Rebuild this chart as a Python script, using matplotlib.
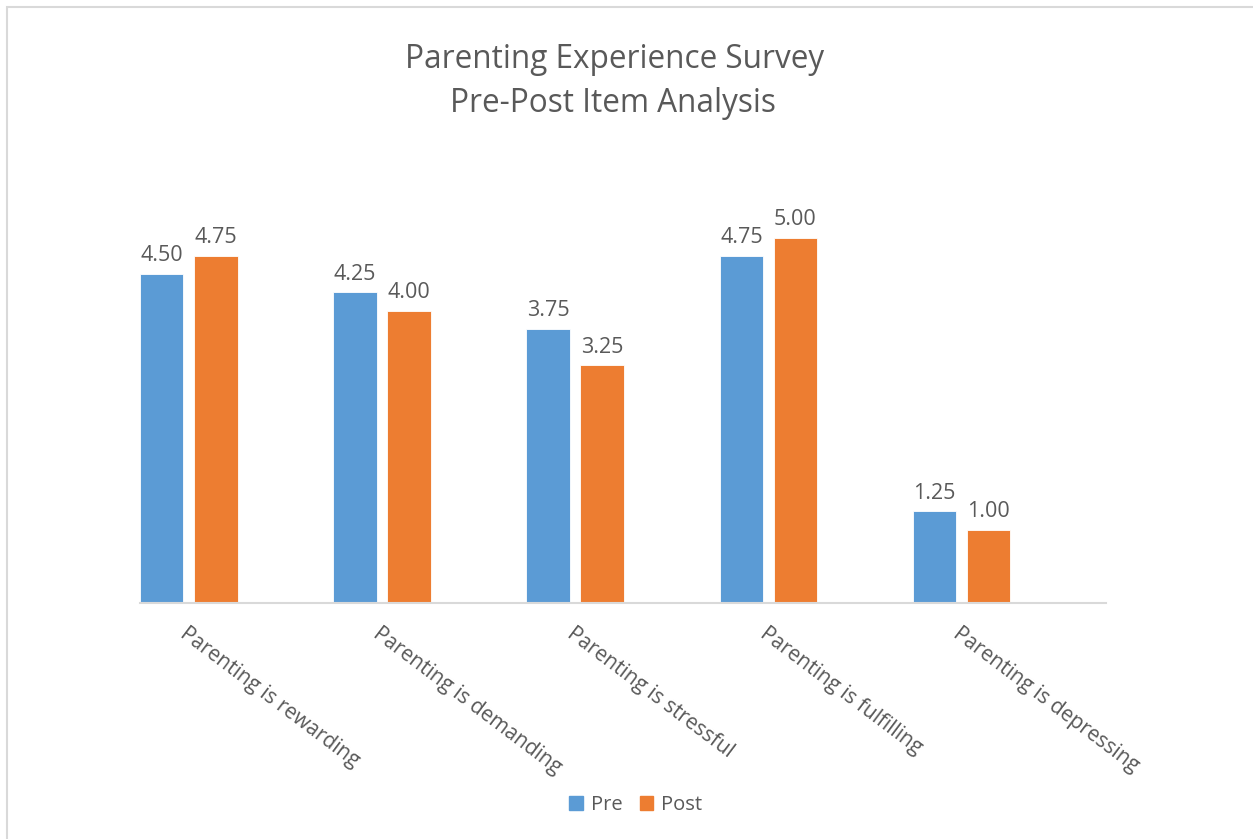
import matplotlib
matplotlib.use("Agg")
import matplotlib.pyplot as plt
from matplotlib.patches import Patch, Rectangle
import numpy as np

plt.rcParams['font.family'] = ['Open Sans', 'DejaVu Sans']

# Chart data
categories = ["Parenting is rewarding", "Parenting is demanding",
              "Parenting is stressful", "Parenting is fulfilling",
              "Parenting is depressing"]
pre_scores = [4.50, 4.25, 3.75, 4.75, 1.25]
post_scores = [4.75, 4.00, 3.25, 5.00, 1.00]
series_names = ["Pre", "Post"]

BLUE = "#5B9BD5"
ORANGE = "#ED7D31"
TEXT = "#595959"
W, H = 1253, 839

fig = plt.figure(figsize=(W / 100, H / 100), dpi=100)

# outer chart border (grey, partly cut off at right/bottom)
fig.patches.append(Rectangle((6.5 / W, -0.05), 1.2, 1 - 7 / H + 0.05,
                             transform=fig.transFigure, fill=False,
                             edgecolor="#d9d9d9", linewidth=1.5))

# plot area: x 140..1106 px, baseline at 602.5 px, ~73 px per unit
left, right, base = 140, 1106, 602.5
top = base - 6 * 73.0
ax = fig.add_axes([left / W, 1 - base / H, (right - left) / W, (base - top) / H])

x = np.arange(len(categories))
bar_w = 0.225
b1 = ax.bar(x, pre_scores, width=bar_w, align="edge", color=BLUE,
            edgecolor="white", linewidth=0.6)
b2 = ax.bar(x + 0.28, post_scores, width=bar_w, align="edge", color=ORANGE,
            edgecolor="white", linewidth=0.6)

for bars, vals in ((b1, pre_scores), (b2, post_scores)):
    for b, v in zip(bars, vals):
        ax.annotate(f"{v:.2f}", (b.get_x() + b.get_width() / 2, v),
                    xytext=(0, 5.5), textcoords="offset points",
                    ha="center", va="bottom", fontsize=15.5, color=TEXT)

ax.set_xlim(0, len(categories))
ax.set_ylim(0, 6)
ax.set_yticks([])
ax.set_xticks(x + 0.253)
ax.set_xticklabels(categories, rotation=-37, ha="left", va="top",
                   rotation_mode="anchor", fontsize=15, color=TEXT)
ax.tick_params(axis="x", length=0, pad=15)
for s in ("top", "right", "left"):
    ax.spines[s].set_visible(False)
ax.spines["bottom"].set_color("#d9d9d9")
ax.spines["bottom"].set_linewidth(1.5)

fig.text(615 / W, 1 - 59 / H, "Parenting Experience Survey",
         ha="center", va="center", fontsize=22.7, color=TEXT)
fig.text(613 / W, 1 - 104 / H, "Pre-Post Item Analysis",
         ha="center", va="center", fontsize=22.7, color=TEXT)

handles = [Patch(color=BLUE), Patch(color=ORANGE)]
fig.legend(handles, series_names, loc="center", bbox_to_anchor=(636 / W, 1 - 805 / H),
           ncol=2, frameon=False, fontsize=14.5, labelcolor=TEXT,
           handlelength=0.65, handleheight=0.65, handletextpad=0.4, columnspacing=0.9)

fig.savefig("out.png", dpi=100)
